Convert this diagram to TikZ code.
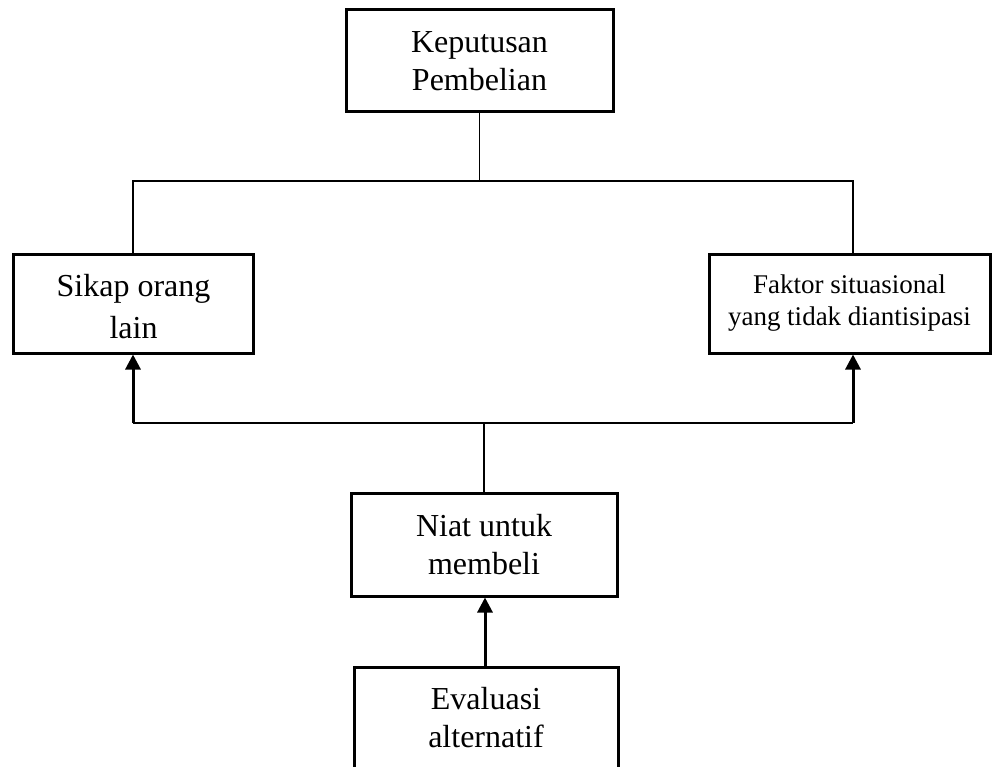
\documentclass[tikz,border=0pt]{standalone}
\usepackage{fontspec}
\setmainfont{Liberation Serif}
\usetikzlibrary{arrows.meta}
\begin{document}
\begin{tikzpicture}[x=1pt,y=-1pt,
  box/.style={draw=black,line width=3pt,inner sep=0pt,align=center},
  big/.style={font=\fontsize{32}{38}\selectfont},
  small/.style={font=\fontsize{27}{32}\selectfont},
  thinline/.style={line width=1.5pt},
  arr/.style={line width=3pt,-{Triangle[width=15pt,length=15pt]}}]
\useasboundingbox (0,0) rectangle (992,767);
\begin{scope}
\clip (0,0) rectangle (992,767);
\node[box,big,minimum width=267pt,minimum height=102pt] (kp) at (479.5,61) {Keputusan\\Pembelian};
\node[box,minimum width=240pt,minimum height=99pt] (sk) at (133,303.5) {};
\node[font=\fontsize{32}{42}\selectfont,align=center] (skt) at (133.5,307) {Sikap orang\\lain};
\node[box,small,minimum width=281pt,minimum height=99pt] (fk) at (849.5,303.5) {Faktor situasional\\yang tidak diantisipasi};
\node[box,big,minimum width=266pt,minimum height=103pt] (nt) at (484,544.5) {Niat untuk\\membeli};
\node[box,minimum width=264pt,minimum height=116pt] (ev) at (486,725) {};
\node[big,align=center] (evt) at (486,718) {Evaluasi\\alternatif};
\end{scope}
\coordinate (l1) at (133,181);
\coordinate (r1) at (853,181);
\coordinate (l2) at (133,423);
\coordinate (r2) at (853,423);
\coordinate (m2) at (484,423);
\draw[thinline] (kp.south) -- (kp.south |- l1);
\draw[thinline] (l1 |- sk.north) -- (l1) -- (r1) -- (r1 |- fk.north);
\draw[thinline] (nt.north) -- (m2);
\draw[thinline] (l2) -- (r2);
\draw[arr] (r2) -- (r2 |- fk.south);
\draw[arr] (l2) -- (l2 |- sk.south);
\draw[arr] (ev.north -| 485,0) -- (nt.south -| 485,0);
\end{tikzpicture}
\end{document}
